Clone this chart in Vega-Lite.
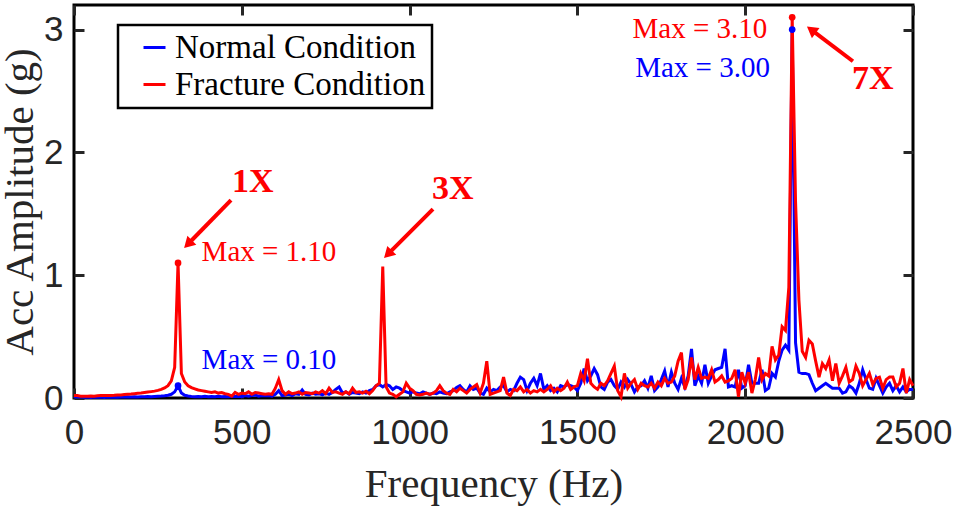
{
  "$schema": "https://vega.github.io/schema/vega-lite/v6.json",
  "width": 839,
  "height": 393,
  "autosize": {"type": "none"},
  "padding": {"left": 74, "top": 5, "right": 42, "bottom": 110},
  "background": "white",
  "config": {
    "view": {"stroke": "#000000", "strokeWidth": 3},
    "axis": {
      "grid": false, "domain": false,
      "tickColor": "#262626", "tickWidth": 3, "tickSize": -10,
      "labelFont": "Liberation Sans", "labelFontSize": 35, "labelColor": "#262626",
      "titleFont": "Liberation Serif", "titleFontSize": 41, "titleFontWeight": "normal", "titleColor": "#262626"
    }
  },
  "datasets": {
    "spec": [
      {"f":0,"n":0.010,"r":0.020},{"f":10,"n":0.008,"r":0.020},{"f":20,"n":0.010,"r":0.015},{"f":30,"n":0.006,"r":0.015},{"f":40,"n":0.008,"r":0.015},
      {"f":50,"n":0.005,"r":0.016},{"f":60,"n":0.008,"r":0.015},{"f":70,"n":0.006,"r":0.018},{"f":80,"n":0.008,"r":0.020},{"f":90,"n":0.005,"r":0.020},
      {"f":100,"n":0.008,"r":0.020},{"f":110,"n":0.006,"r":0.021},{"f":120,"n":0.009,"r":0.022},{"f":130,"n":0.007,"r":0.025},{"f":140,"n":0.009,"r":0.025},
      {"f":150,"n":0.008,"r":0.028},{"f":160,"n":0.010,"r":0.030},{"f":170,"n":0.008,"r":0.032},{"f":180,"n":0.010,"r":0.035},{"f":190,"n":0.009,"r":0.038},
      {"f":200,"n":0.011,"r":0.040},{"f":210,"n":0.010,"r":0.044},{"f":220,"n":0.012,"r":0.048},{"f":230,"n":0.011,"r":0.052},{"f":240,"n":0.013,"r":0.056},
      {"f":250,"n":0.015,"r":0.062},{"f":260,"n":0.016,"r":0.070},{"f":270,"n":0.019,"r":0.082},{"f":280,"n":0.023,"r":0.100},{"f":290,"n":0.030,"r":0.140},
      {"f":300,"n":0.050,"r":0.250},{"f":310,"n":0.100,"r":1.100},{"f":320,"n":0.040,"r":0.200},{"f":330,"n":0.022,"r":0.130},{"f":340,"n":0.016,"r":0.100},
      {"f":350,"n":0.013,"r":0.085},{"f":360,"n":0.011,"r":0.075},{"f":370,"n":0.012,"r":0.065},{"f":380,"n":0.010,"r":0.060},{"f":390,"n":0.014,"r":0.055},
      {"f":400,"n":0.010,"r":0.050},{"f":410,"n":0.012,"r":0.045},{"f":420,"n":0.010,"r":0.050},{"f":430,"n":0.015,"r":0.040},{"f":440,"n":0.010,"r":0.045},
      {"f":450,"n":0.012,"r":0.035},{"f":460,"n":0.010,"r":0.030},{"f":470,"n":0.015,"r":0.015},{"f":480,"n":0.012,"r":0.045},{"f":490,"n":0.015,"r":0.030},
      {"f":500,"n":0.010,"r":0.040},{"f":510,"n":0.020,"r":0.035},{"f":520,"n":0.015,"r":0.050},{"f":530,"n":0.020,"r":0.030},{"f":540,"n":0.025,"r":0.045},
      {"f":550,"n":0.015,"r":0.040},{"f":560,"n":0.020,"r":0.035},{"f":570,"n":0.018,"r":0.030},{"f":580,"n":0.020,"r":0.035},{"f":590,"n":0.015,"r":0.030},
      {"f":600,"n":0.030,"r":0.080},{"f":610,"n":0.060,"r":0.150},{"f":620,"n":0.020,"r":0.060},{"f":630,"n":0.025,"r":0.030},{"f":640,"n":0.030,"r":0.050},
      {"f":650,"n":0.020,"r":0.035},{"f":660,"n":0.035,"r":0.040},{"f":670,"n":0.030,"r":0.050},{"f":680,"n":0.065,"r":0.030},{"f":690,"n":0.030,"r":0.045},
      {"f":700,"n":0.025,"r":0.040},{"f":710,"n":0.040,"r":0.035},{"f":720,"n":0.030,"r":0.050},{"f":730,"n":0.035,"r":0.040},{"f":740,"n":0.025,"r":0.060},
      {"f":750,"n":0.040,"r":0.035},{"f":760,"n":0.030,"r":0.080},{"f":770,"n":0.045,"r":0.045},{"f":780,"n":0.070,"r":0.050},{"f":790,"n":0.090,"r":0.040},
      {"f":800,"n":0.040,"r":0.030},{"f":810,"n":0.050,"r":0.050},{"f":820,"n":0.030,"r":0.035},{"f":830,"n":0.045,"r":0.080},{"f":840,"n":0.040,"r":0.045},
      {"f":850,"n":0.035,"r":0.050},{"f":860,"n":0.050,"r":0.040},{"f":870,"n":0.040,"r":0.055},{"f":880,"n":0.060,"r":0.035},{"f":890,"n":0.070,"r":0.060},
      {"f":900,"n":0.100,"r":0.100},{"f":910,"n":0.110,"r":0.120},{"f":920,"n":0.090,"r":1.070},{"f":930,"n":0.110,"r":0.090},{"f":940,"n":0.100,"r":0.040},
      {"f":950,"n":0.070,"r":0.030},{"f":960,"n":0.090,"r":0.010},{"f":970,"n":0.080,"r":0.030},{"f":980,"n":0.060,"r":0.050},{"f":990,"n":0.050,"r":0.120},
      {"f":1000,"n":0.040,"r":0.080},{"f":1010,"n":0.050,"r":0.060},{"f":1020,"n":0.040,"r":0.030},{"f":1030,"n":0.035,"r":0.025},{"f":1040,"n":0.050,"r":0.030},
      {"f":1050,"n":0.040,"r":0.040},{"f":1060,"n":0.030,"r":0.030},{"f":1070,"n":0.040,"r":0.040},{"f":1080,"n":0.035,"r":0.060},{"f":1090,"n":0.050,"r":0.100},
      {"f":1100,"n":0.040,"r":0.060},{"f":1110,"n":0.035,"r":0.040},{"f":1120,"n":0.050,"r":0.030},{"f":1130,"n":0.060,"r":0.070},{"f":1140,"n":0.085,"r":0.050},
      {"f":1150,"n":0.100,"r":0.080},{"f":1160,"n":0.070,"r":0.060},{"f":1170,"n":0.050,"r":0.040},{"f":1180,"n":0.100,"r":0.070},{"f":1190,"n":0.070,"r":0.090},
      {"f":1200,"n":0.080,"r":0.110},{"f":1210,"n":0.040,"r":0.040},{"f":1220,"n":0.030,"r":0.120},{"f":1230,"n":0.080,"r":0.300},{"f":1240,"n":0.050,"r":0.030},
      {"f":1250,"n":0.070,"r":0.040},{"f":1260,"n":0.060,"r":0.050},{"f":1270,"n":0.090,"r":0.060},{"f":1280,"n":0.100,"r":0.170},{"f":1290,"n":0.050,"r":0.040},
      {"f":1300,"n":0.070,"r":0.020},{"f":1310,"n":0.060,"r":0.070},{"f":1320,"n":0.120,"r":0.060},{"f":1330,"n":0.170,"r":0.090},{"f":1340,"n":0.150,"r":0.050},
      {"f":1350,"n":0.060,"r":0.070},{"f":1360,"n":0.120,"r":0.040},{"f":1370,"n":0.160,"r":0.060},{"f":1380,"n":0.100,"r":0.050},{"f":1390,"n":0.200,"r":0.070},
      {"f":1400,"n":0.070,"r":0.050},{"f":1410,"n":0.100,"r":0.070},{"f":1420,"n":0.060,"r":0.100},{"f":1430,"n":0.080,"r":0.050},{"f":1440,"n":0.050,"r":0.080},
      {"f":1450,"n":0.100,"r":0.060},{"f":1460,"n":0.090,"r":0.080},{"f":1470,"n":0.110,"r":0.130},{"f":1480,"n":0.100,"r":0.070},{"f":1490,"n":0.090,"r":0.090},
      {"f":1500,"n":0.060,"r":0.100},{"f":1510,"n":0.120,"r":0.200},{"f":1520,"n":0.240,"r":0.140},{"f":1530,"n":0.140,"r":0.320},{"f":1540,"n":0.180,"r":0.120},
      {"f":1550,"n":0.240,"r":0.090},{"f":1560,"n":0.190,"r":0.070},{"f":1570,"n":0.090,"r":0.120},{"f":1580,"n":0.070,"r":0.100},{"f":1590,"n":0.130,"r":0.140},
      {"f":1600,"n":0.150,"r":0.200},{"f":1610,"n":0.100,"r":0.260},{"f":1620,"n":0.070,"r":0.060},{"f":1630,"n":0.130,"r":0.010},{"f":1640,"n":0.090,"r":0.200},
      {"f":1650,"n":0.150,"r":0.080},{"f":1660,"n":0.110,"r":0.120},{"f":1670,"n":0.050,"r":0.150},{"f":1680,"n":0.090,"r":0.070},{"f":1690,"n":0.100,"r":0.120},
      {"f":1700,"n":0.140,"r":0.100},{"f":1710,"n":0.080,"r":0.090},{"f":1720,"n":0.180,"r":0.120},{"f":1730,"n":0.060,"r":0.080},{"f":1740,"n":0.090,"r":0.130},
      {"f":1750,"n":0.150,"r":0.100},{"f":1760,"n":0.220,"r":0.160},{"f":1770,"n":0.090,"r":0.120},{"f":1780,"n":0.210,"r":0.130},{"f":1790,"n":0.120,"r":0.180},
      {"f":1800,"n":0.070,"r":0.300},{"f":1810,"n":0.160,"r":0.370},{"f":1820,"n":0.090,"r":0.070},{"f":1830,"n":0.180,"r":0.150},{"f":1840,"n":0.400,"r":0.330},
      {"f":1850,"n":0.100,"r":0.150},{"f":1860,"n":0.180,"r":0.250},{"f":1870,"n":0.120,"r":0.160},{"f":1880,"n":0.270,"r":0.170},{"f":1890,"n":0.120,"r":0.160},
      {"f":1900,"n":0.180,"r":0.230},{"f":1910,"n":0.230,"r":0.130},{"f":1920,"n":0.240,"r":0.150},{"f":1930,"n":0.250,"r":0.180},{"f":1940,"n":0.400,"r":0.130},
      {"f":1950,"n":0.090,"r":0.140},{"f":1960,"n":0.100,"r":0.160},{"f":1970,"n":0.090,"r":0.230},{"f":1980,"n":0.230,"r":0.010},{"f":1990,"n":0.080,"r":0.210},
      {"f":2000,"n":0.100,"r":0.120},{"f":2010,"n":0.270,"r":0.210},{"f":2020,"n":0.120,"r":0.040},{"f":2030,"n":0.120,"r":0.150},{"f":2040,"n":0.120,"r":0.330},
      {"f":2050,"n":0.230,"r":0.150},{"f":2060,"n":0.060,"r":0.200},{"f":2070,"n":0.080,"r":0.180},{"f":2080,"n":0.200,"r":0.420},{"f":2090,"n":0.170,"r":0.310},
      {"f":2100,"n":0.300,"r":0.350},{"f":2110,"n":0.390,"r":0.580},{"f":2120,"n":0.430,"r":0.550},{"f":2130,"n":0.390,"r":0.900},{"f":2140,"n":3.000,"r":3.100},
      {"f":2150,"n":0.450,"r":1.600},{"f":2160,"n":0.210,"r":0.800},{"f":2170,"n":0.200,"r":0.380},{"f":2180,"n":0.200,"r":0.330},{"f":2190,"n":0.190,"r":0.470},
      {"f":2200,"n":0.120,"r":0.440},{"f":2210,"n":0.060,"r":0.300},{"f":2220,"n":0.080,"r":0.170},{"f":2230,"n":0.100,"r":0.280},{"f":2240,"n":0.120,"r":0.240},
      {"f":2250,"n":0.100,"r":0.310},{"f":2260,"n":0.080,"r":0.140},{"f":2270,"n":0.080,"r":0.280},{"f":2280,"n":0.080,"r":0.120},{"f":2290,"n":0.040,"r":0.180},
      {"f":2300,"n":0.050,"r":0.250},{"f":2310,"n":0.100,"r":0.130},{"f":2320,"n":0.080,"r":0.150},{"f":2330,"n":0.040,"r":0.260},{"f":2340,"n":0.120,"r":0.200},
      {"f":2350,"n":0.230,"r":0.100},{"f":2360,"n":0.150,"r":0.150},{"f":2370,"n":0.080,"r":0.200},{"f":2380,"n":0.070,"r":0.110},{"f":2390,"n":0.160,"r":0.160},
      {"f":2400,"n":0.100,"r":0.170},{"f":2410,"n":0.040,"r":0.080},{"f":2420,"n":0.090,"r":0.150},{"f":2430,"n":0.120,"r":0.170},{"f":2440,"n":0.060,"r":0.170},
      {"f":2450,"n":0.100,"r":0.090},{"f":2460,"n":0.050,"r":0.120},{"f":2470,"n":0.090,"r":0.240},{"f":2480,"n":0.050,"r":0.040},{"f":2490,"n":0.070,"r":0.150},
      {"f":2500,"n":0.070,"r":0.100}
    ],
    "maxlabels": [
      {"f":581,"a":1.115,"t":"Max = 1.10","s":"r"},
      {"f":581,"a":0.233,"t":"Max = 0.10","s":"n"},
      {"f":1865,"a":2.93,"t":"Max = 3.10","s":"r"},
      {"f":1873,"a":2.61,"t":"Max = 3.00","s":"n"}
    ],
    "orders": [
      {"f":533,"a":1.68,"t":"1X"},
      {"f":1129,"a":1.62,"t":"3X"},
      {"f":2380,"a":2.52,"t":"7X"}
    ],
    "arrows": [
      {"k":"1X","f":467.8,"a":1.611,"f2":343.5,"a2":1.264},
      {"k":"3X","f":1069.7,"a":1.538,"f2":939.2,"a2":1.181},
      {"k":"7X","f":2321,"a":2.742,"f2":2201.4,"a2":2.989}
    ]
  },
  "layer": [
    {
      "data": {"name": "spec"},
      "transform": [{"fold": ["n", "r"], "as": ["s", "a"]}, {"filter": "datum.s == 'n'"}],
      "mark": {"type": "line", "strokeWidth": 3},
      "encoding": {
        "x": {"field": "f", "type": "quantitative", "scale": {"domain": [0, 2500], "nice": false},
              "axis": {"orient": "bottom", "values": [0, 500, 1000, 1500, 2000, 2500], "format": "d", "title": "Frequency (Hz)", "labelPadding": 27, "titlePadding": 14, "labelFlush": false}},
        "y": {"field": "a", "type": "quantitative", "scale": {"domain": [0, 3.2], "nice": false},
              "axis": {"orient": "left", "values": [0, 1, 2, 3], "format": "d", "title": "Acc Amplitude (g)", "labelPadding": 21, "titlePadding": 2}},
        "color": {"field": "s", "type": "nominal",
                  "scale": {"domain": ["n", "r"], "range": ["#0000FF", "#FF0000"]},
                  "legend": {"orient": "none", "legendX": 44, "legendY": 20, "title": null,
                             "labelExpr": "datum.label == 'n' ? 'Normal Condition' : 'Fracture Condition'",
                             "labelFont": "Liberation Serif", "labelFontSize": 33, "labelColor": "#000000", "labelLimit": 500,
                             "symbolType": "stroke", "symbolSize": 484, "symbolStrokeWidth": 3,
                             "strokeColor": "#000000", "fillColor": "#FFFFFF", "padding": 6, "symbolOffset": 14,
                             "labelOffset": 4, "rowPadding": 3,
                             "encode": {"legend": {"update": {"strokeWidth": {"value": 2.5}}}}}}
      }
    },
    {
      "data": {"name": "spec"},
      "transform": [{"fold": ["n", "r"], "as": ["s", "a"]}, {"filter": "datum.s == 'r'"}],
      "mark": {"type": "line", "strokeWidth": 3},
      "encoding": {
        "x": {"field": "f", "type": "quantitative",
              "axis": {"orient": "top", "values": [0, 500, 1000, 1500, 2000, 2500], "labels": false, "title": null}},
        "y": {"field": "a", "type": "quantitative",
              "axis": {"orient": "right", "values": [0, 1, 2, 3], "labels": false, "title": null}},
        "color": {"field": "s", "type": "nominal"}
      }
    },
    {
      "data": {"name": "spec"},
      "transform": [{"fold": ["n", "r"], "as": ["s", "a"]}, {"filter": "datum.f == 310 || datum.f == 2140"}],
      "mark": {"type": "point", "filled": true, "shape": "circle", "size": 45, "opacity": 1},
      "encoding": {
        "x": {"field": "f", "type": "quantitative", "axis": null},
        "y": {"field": "a", "type": "quantitative", "axis": null},
        "color": {"field": "s", "type": "nominal", "legend": null}
      }
    },
    {
      "data": {"name": "maxlabels"},
      "mark": {"type": "text", "font": "Liberation Serif", "fontSize": 29, "align": "center", "baseline": "alphabetic"},
      "encoding": {
        "x": {"field": "f", "type": "quantitative", "axis": null},
        "y": {"field": "a", "type": "quantitative", "axis": null},
        "text": {"field": "t"},
        "color": {"field": "s", "type": "nominal", "legend": null}
      }
    },
    {
      "data": {"name": "orders"},
      "mark": {"type": "text", "font": "Liberation Serif", "fontSize": 34, "fontWeight": "bold", "align": "center", "baseline": "alphabetic", "color": "#FF0000"},
      "encoding": {
        "x": {"field": "f", "type": "quantitative", "axis": null},
        "y": {"field": "a", "type": "quantitative", "axis": null},
        "text": {"field": "t"}
      }
    },
    {
      "data": {"name": "arrows"},
      "mark": {"type": "rule", "color": "#FF0000", "strokeWidth": 4},
      "encoding": {
        "x": {"field": "f", "type": "quantitative", "axis": null},
        "y": {"field": "a", "type": "quantitative", "axis": null},
        "x2": {"field": "f2"},
        "y2": {"field": "a2"}
      }
    },
    {
      "data": {"name": "arrows"},
      "transform": [{"filter": "datum.k != '7X'"}],
      "mark": {"type": "point", "shape": "triangle", "filled": true, "size": 160, "angle": 225, "color": "#FF0000", "opacity": 1},
      "encoding": {
        "x": {"field": "f2", "type": "quantitative", "axis": null},
        "y": {"field": "a2", "type": "quantitative", "axis": null}
      }
    },
    {
      "data": {"name": "arrows"},
      "transform": [{"filter": "datum.k == '7X'"}],
      "mark": {"type": "point", "shape": "triangle", "filled": true, "size": 160, "angle": 307, "color": "#FF0000", "opacity": 1},
      "encoding": {
        "x": {"field": "f2", "type": "quantitative", "axis": null},
        "y": {"field": "a2", "type": "quantitative", "axis": null}
      }
    }
  ]
}
